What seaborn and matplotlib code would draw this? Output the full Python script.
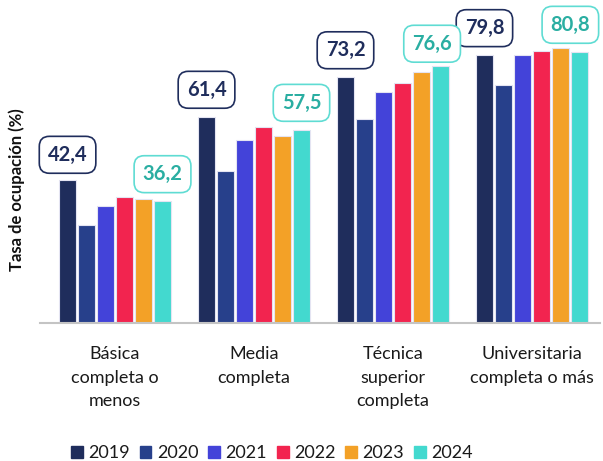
import numpy as np
import pandas as pd
import matplotlib
matplotlib.use("Agg")
import matplotlib.pyplot as plt
import seaborn as sns

# datos
categorias = ["Básica\ncompleta o\nmenos", "Media\ncompleta", "Técnica\nsuperior\ncompleta", "Universitaria\ncompleta o más"]
anios = ["2019", "2020", "2021", "2022", "2023", "2024"]
v2019 = [42.4, 61.4, 73.2, 79.8]
v2020 = [29.0, 45.2, 60.9, 70.8]
v2021 = [34.9, 54.6, 68.9, 79.8]
v2022 = [37.4, 58.3, 71.5, 81.0]
v2023 = [36.9, 55.8, 74.8, 81.9]
v2024 = [36.2, 57.5, 76.6, 80.8]
colores = ["#1f2d5c", "#27408b", "#4343d9", "#f2244f", "#f3a127", "#43d9cf"]

valores = [v2019, v2020, v2021, v2022, v2023, v2024]
filas = []
for a, vals in zip(anios, valores):
    for c, v in zip(categorias, vals):
        filas.append({"cat": c, "anio": a, "valor": v})
df = pd.DataFrame(filas)

sns.set_style("white")
plt.rcParams["font.family"] = ["Lato", "DejaVu Sans"]

fig = plt.figure(figsize=(6.03, 4.61), dpi=100)
ax = fig.add_axes([40 / 603, 1 - 322.5 / 461, 560 / 603, 317.5 / 461])

sns.barplot(data=df, x="cat", y="valor", hue="anio", palette=colores,
            saturation=1, width=0.82, gap=0.12, edgecolor="#e4e4f2",
            linewidth=0.8, legend=True, ax=ax)

ax.set_ylim(0, 94.8)
ax.set_xlim(-0.54, 3.49)
ax.set_yticks([])
ax.set_xlabel("")
ax.set_ylabel("")
for s in ["top", "right", "left"]:
    ax.spines[s].set_visible(False)
ax.spines["bottom"].set_color("#c4c4c4")
ax.spines["bottom"].set_linewidth(1.5)
ax.tick_params(axis="x", length=0, pad=17, labelsize=13, colors="#1a1a1a")
for t in ax.get_xticklabels():
    t.set_linespacing(1.58)
    t.set_verticalalignment("top")

# etiquetas 2019 y 2024 (algunas corridas para que no se pisen)
def etiquetas(cont, vals, col_txt, col_borde, desplaz):
    for bar, v, (dx, dy) in zip(cont, vals, desplaz):
        x = bar.get_x() + bar.get_width() / 2
        ax.annotate(f"{v:.1f}".replace(".", ","), (x, bar.get_height()),
                    xytext=(dx, dy), textcoords="offset points",
                    ha="center", va="center", fontsize=14.5, fontweight="bold",
                    color=col_txt, annotation_clip=False,
                    bbox=dict(boxstyle="round,pad=0.42,rounding_size=0.5",
                              fc="white", ec=col_borde, lw=1.2))

etiquetas(ax.containers[0], v2019, "#1f2d5c", "#1f2d5c",
          [(0, 18.5), (0, 19.5), (0, 19.5), (0, 19.5)])
etiquetas(ax.containers[5], v2024, "#2aaea2", "#5fdcd3",
          [(0, 19.5), (0, 19.5), (-6, 16), (-6.5, 19.5)])

fig.text(17 / 603, 1 - 190 / 461, "Tasa de ocupación (%)", rotation=90,
         ha="center", va="center", fontsize=12, fontweight="bold", color="#111111")

ax.get_legend().remove()
handles = [plt.Rectangle((0, 0), 1, 1, color=c) for c in colores]
fig.legend(handles, anios, loc="center", bbox_to_anchor=(272 / 603, 1 - 453 / 461),
           ncol=6, frameon=False, fontsize=13, handlelength=0.65, handleheight=0.65,
           handletextpad=0.3, columnspacing=0.55, labelcolor="#1a1a1a")

fig.savefig("out.png", dpi=100)
